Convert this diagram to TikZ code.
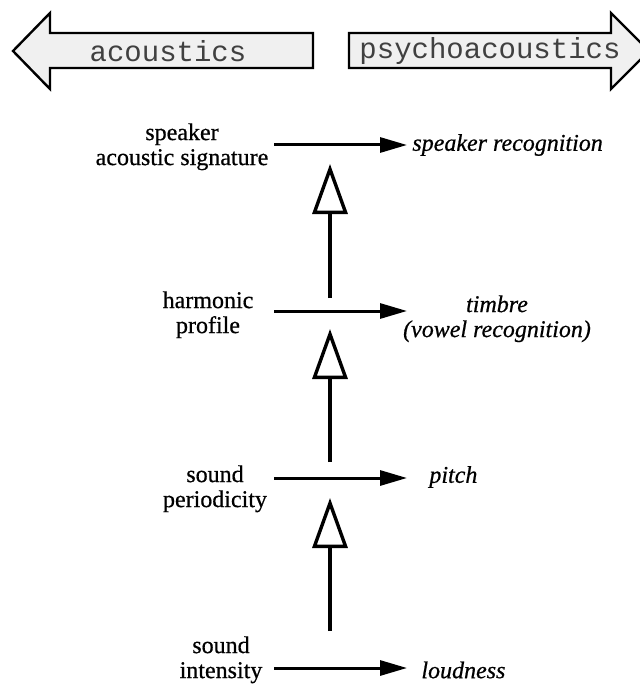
\documentclass[tikz,border=0pt]{standalone}
\usepackage{fontspec}
\setmainfont{Liberation Serif}[UprightFeatures={FakeBold=0.6}, ItalicFeatures={FakeBold=0.6}]
\setmonofont{Liberation Mono}
\usetikzlibrary{arrows.meta}
\tikzset{every node/.style={font=\fontsize{12}{12.5}\selectfont, inner sep=0pt},
  side/.style={draw=black, line width=1.2pt, fill=black!6, line join=miter},
  side label/.style={font=\fontsize{14.5}{16}\selectfont\ttfamily, text=black!75},
  cue/.style={align=center, anchor=north},
  percept/.style={font=\fontsize{12}{12.5}\selectfont\itshape},
  flow/.style={line width=1.5pt, -{Triangle[length=13.5pt,width=7.5pt]}},
  lift/.style={line width=1.7pt, -{Triangle[open,length=25pt,width=17.5pt]}}}

\begin{document}
\begin{tikzpicture}[x=0.5pt, y=-0.5pt]
  \fill[white] (0,0) rectangle (639,684);
  \useasboundingbox (0,0) rectangle (639,684);

  % block arrows on top
  \draw[side] (313,33) -- (50,33) -- (50,13) -- (13,51) -- (50,89) -- (50,68) -- (313,68) -- cycle;
  \draw[side] (349,33) -- (611,33) -- (611,13) -- (649,51) -- (611,89) -- (611,68) -- (349,68) -- cycle;
  \node[side label] (acou) at (168,51) {acoustics};
  \node[side label] (psych) at (490,51) {psychoacoustics};

  % physical side
  \node[cue] (sig) at (182,123) {speaker\\acoustic signature};
  \node[cue] (harm) at (208,291) {harmonic\\profile};
  \node[cue] (peri) at (215,465) {sound\\periodicity};
  \node[cue] (inten) at (221,636) {sound\\intensity};

  % perceived side
  \node[percept, anchor=west] (recog) at (412,145) {speaker recognition};
  \node[percept, align=center, anchor=north] (timbre) at (497,295) {timbre\\(vowel recognition)};
  \node[percept, anchor=west] (pitch) at (429,477) {pitch};
  \node[percept, anchor=west] (loud) at (421,670) {loudness};

  % horizontal arrows
  \foreach \i/\y in {1/145, 2/311, 3/478, 4/668}{
    \coordinate (from\i) at (274,\y);
    \coordinate (to\i) at (407,\y);
    \draw[flow] (from\i) -- (to\i);
  }

  % hollow arrows going up
  \foreach \i/\lo/\hi in {1/298/164, 2/462/329, 3/631/498}{
    \coordinate (base\i) at (330,\lo);
    \coordinate (top\i) at (330,\hi);
    \draw[lift] (base\i) -- (top\i);
  }
\end{tikzpicture}
\end{document}
